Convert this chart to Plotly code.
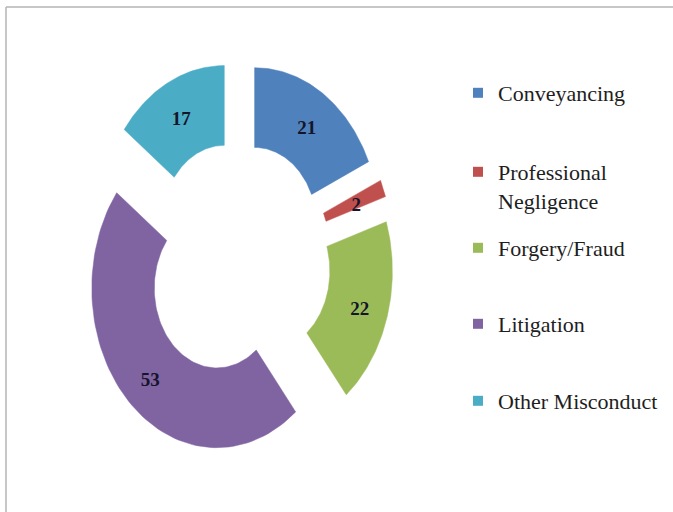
import numpy as np
import plotly.graph_objects as go

# Complaint categories and counts
categories = ["Conveyancing", "Professional Negligence", "Forgery/Fraud", "Litigation", "Other Misconduct"]
legend_labels = ["Conveyancing", "Professional<br>Negligence", "Forgery/Fraud", "Litigation", "Other Misconduct"]
counts = [21, 2, 22, 53, 17]
colors = ["#4F81BD", "#C0504D", "#9BBB59", "#8064A2", "#4BACC6"]

# Ring geometry in unit coordinates (outer radius = 1)
OUTER = 1.0
INNER = 0.5
EXPLODE = 0.245

W, H = 673, 512
cx_px, cy_px = 238, 260          # ring centre in pixels (from top-left)
rx_px, ry_px = 125, 159.5        # pixels per unit on each axis

fig = go.Figure()

total = sum(counts)
start = 0.0
for name, val, col in zip(categories, counts, colors):
    span = 360.0 * val / total
    end = start + span
    mid = np.radians(start + span / 2)
    ox, oy = EXPLODE * np.sin(mid), EXPLODE * np.cos(mid)
    th = np.radians(np.linspace(start, end, 80))
    xs = np.concatenate([OUTER * np.sin(th), INNER * np.sin(th[::-1])]) + ox
    ys = np.concatenate([OUTER * np.cos(th), INNER * np.cos(th[::-1])]) + oy
    fig.add_trace(go.Scatter(
        x=np.append(xs, xs[0]), y=np.append(ys, ys[0]),
        mode="lines", fill="toself", fillcolor=col,
        line=dict(color=col, width=0.5),
        name=name, showlegend=False, hoverinfo="name",
    ))
    # value label in the middle of the band
    rlab = (OUTER + INNER) / 2 + EXPLODE + 0.02
    fig.add_trace(go.Scatter(
        x=[rlab * np.sin(mid)], y=[rlab * np.cos(mid) - 0.03],
        mode="text", text=[str(val)],
        textfont=dict(family="Liberation Serif", size=19, color="#15152a"),
        texttemplate="<b>%{text}</b>",
        showlegend=False, hoverinfo="skip",
    ))
    start = end

# Legend entries, one legend box per category
legend_centers = [92, 171, 247, 323, 400]
legend_layout = {}
for i, (lab, col, yc) in enumerate(zip(legend_labels, colors, legend_centers)):
    key = "legend" if i == 0 else f"legend{i + 1}"
    fig.add_trace(go.Scatter(
        x=[None], y=[None], mode="markers",
        marker=dict(symbol="square", size=10, color=col),
        name=lab, legend=key, showlegend=True,
    ))
    legend_layout[key] = dict(
        x=(478 - 20) / W, xanchor="left",
        y=1 - (yc - 20) / H, yanchor="top",
        valign="top",
        bgcolor="rgba(0,0,0,0)", borderwidth=0,
        font=dict(family="Liberation Serif", size=22, color="#1e1e1e"),
        itemclick=False, itemdoubleclick=False,
    )

fig.update_layout(
    width=W, height=H,
    margin=dict(l=0, r=0, t=0, b=0),
    paper_bgcolor="white", plot_bgcolor="white",
    xaxis=dict(range=[-cx_px / rx_px, (W - cx_px) / rx_px], visible=False, fixedrange=True),
    yaxis=dict(range=[-(H - cy_px) / ry_px, cy_px / ry_px], visible=False, fixedrange=True),
    shapes=[
        dict(type="line", xref="paper", yref="paper",
             x0=6 / W, x1=1, y0=1 - 7 / H, y1=1 - 7 / H,
             line=dict(color="#b4b4b4", width=1.5)),
        dict(type="line", xref="paper", yref="paper",
             x0=6 / W, x1=6 / W, y0=0, y1=1 - 7 / H,
             line=dict(color="#b4b4b4", width=1.5)),
    ],
    **legend_layout,
)

fig.write_html("out.html")
